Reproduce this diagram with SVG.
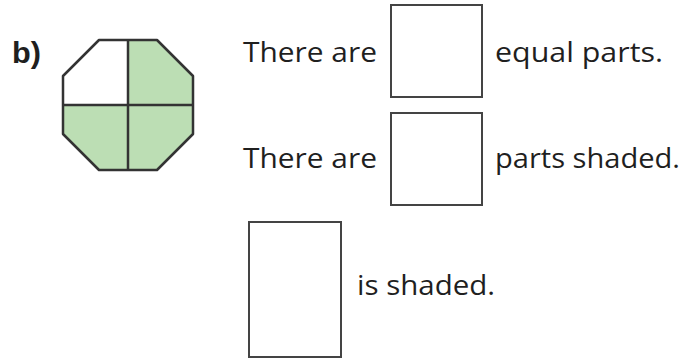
<svg xmlns="http://www.w3.org/2000/svg" width="686" height="359" viewBox="0 0 686 359">
<style>
.t{font-family:"Open Sans","Liberation Sans",sans-serif;font-size:27px;fill:#1f1f1f}
.lbl{font-family:"Liberation Sans",Arial,sans-serif;font-size:30px;font-weight:bold;fill:#1f1f1f}
.box{fill:#fff;stroke:#444;stroke-width:2}
.shade{fill:#bcdeb4;stroke:none}
.edge{fill:none;stroke:#333;stroke-width:2.5;stroke-linejoin:round}
</style>
<rect width="686" height="359" fill="#fff"/>
<g id="label"><text class="lbl" x="12" y="63" textLength="29" lengthAdjust="spacingAndGlyphs">b)</text></g>
<g id="octagon">
<polygon class="shade" points="128,40 157,40 193,76 193,105 128,105"/>
<polygon class="shade" points="63,105 193,105 193,134 157,170 99,170 63,134"/>
<polygon class="edge" points="99,40 157,40 193,76 193,134 157,170 99,170 63,134 63,76"/>
<line class="edge" x1="128" y1="40" x2="128" y2="170"/>
<line class="edge" x1="63" y1="105" x2="193" y2="105"/>
</g>
<g id="row1">
<text class="t" x="243" y="62" textLength="134" lengthAdjust="spacingAndGlyphs">There are</text>
<rect class="box" x="391" y="5" width="91" height="92"/>
<text class="t" x="495" y="62" textLength="168" lengthAdjust="spacingAndGlyphs">equal parts.</text>
</g>
<g id="row2">
<text class="t" x="243" y="168" textLength="134" lengthAdjust="spacingAndGlyphs">There are</text>
<rect class="box" x="391" y="113" width="91" height="92"/>
<text class="t" x="495" y="168" textLength="185" lengthAdjust="spacingAndGlyphs">parts shaded.</text>
</g>
<g id="row3">
<rect class="box" x="249" y="222" width="92" height="135"/>
<text class="t" x="357" y="295" textLength="138" lengthAdjust="spacingAndGlyphs">is shaded.</text>
</g>
</svg>
